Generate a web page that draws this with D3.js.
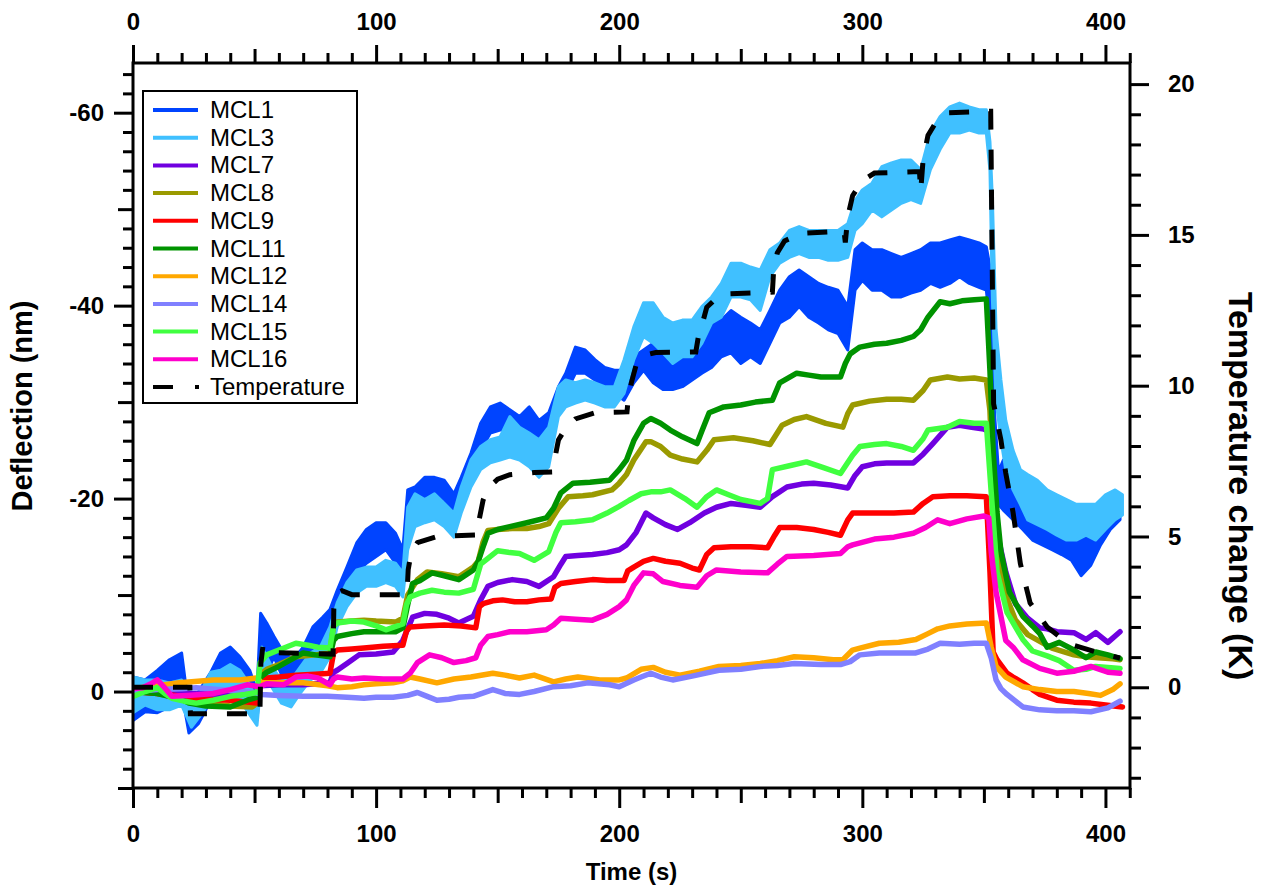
<!DOCTYPE html>
<html><head><meta charset="utf-8">
<script src="https://cdn.jsdelivr.net/npm/d3@7"></script>
<style>body{margin:0;background:#fff} svg{display:block} text{font-family:"Liberation Sans",Arial,Helvetica,sans-serif}</style>
</head><body>
<svg id="chart" width="1261" height="886"></svg>
<script>
// ---------- tick labels ----------
const timeTicks = [0, 100, 200, 300, 400];
const deflTicks = [-60, -40, -20, 0];
const tempTicks = [0, 5, 10, 15, 20];

// ---------- series (time s, deflection nm) ----------
const seriesNames = ["MCL1","MCL3","MCL7","MCL8","MCL9","MCL11","MCL12","MCL14","MCL15","MCL16"];
const seriesColors = ["#0044ff","#40c0ff","#7000e0","#9a9a00","#ff0000","#009300","#ffa800","#8080ff","#40ff40","#ff00cc"];

// noisy series: [t, upper edge, lower edge]
const MCL1 = [[0,-1.5,3],[5,-1.2,2.1],[10,-2.2,2.2],[15,-3.3,1.6],[20,-4,0],[23,1.9,4.3],[27,0,3.3],[32,-2,0.9],[36,-4,0],[40,-4.6,-1.2],[44,-3.6,0],[48,-2.2,0.5],[51,0,3],[52.5,-8.1,-1.2],[55,-7.1,-1.9],[58,-5.7,-3.6],[62,-4,-1.2],[66,-3.3,0.1],[70,-4.6,-1.9],[74,-6.7,-3.6],[78,-7.7,-4.6],[81,-8.5,-5.7],[84,-10.5,-8.1],[88,-12.9,-10.2],[92,-15.4,-12.3],[96,-16.8,-13.3],[100,-17.5,-14],[104,-17.5,-14.7],[108,-16.4,-13.3],[111,-14.7,-11.3],[113,-20.9,-15.7],[116,-21.2,-19.9],[120,-22.2,-20.2],[124,-22.2,-20.5],[128,-21.9,-19.9],[132,-20.5,-18.5],[135,-22.2,-19.9],[139,-24.7,-22.2],[143,-27.8,-25],[147,-29.5,-26.8],[151,-29.9,-27.1],[155,-29.2,-27.4],[159,-28.5,-27.1],[163,-29.5,-26.4],[167,-28.1,-26.1],[171,-28.9,-26.4],[175,-31.6,-29.2],[178,-33,-30.9],[182,-35.7,-33],[186,-35.4,-33],[190,-34.4,-32.3],[194,-33.6,-31.6],[198,-33.3,-30.9],[202,-33.3,-30.2],[206,-34.7,-32],[210,-35.4,-33.3],[214,-36.1,-32],[218,-34.7,-31.3],[222,-34,-31.3],[226,-34.7,-31.6],[230,-35,-32.3],[234,-36.8,-33],[238,-38.2,-33.6],[242,-38.5,-34.7],[246,-39.5,-35.1],[250,-38.8,-34],[254,-38.2,-34.7],[258,-37.5,-34],[262,-39.5,-36.1],[266,-41.6,-38.2],[270,-43,-38.8],[274,-43.7,-39.9],[278,-43,-38.8],[282,-42.3,-38.2],[286,-41.9,-37.5],[290,-41.6,-37.1],[294,-39.9,-35.4],[297,-45.8,-41.6],[300,-46.5,-42.6],[304,-45.8,-41.6],[308,-45.8,-41.6],[312,-45.4,-40.9],[316,-45,-40.9],[320,-45.4,-41.3],[324,-45.8,-41.6],[328,-46.5,-42.3],[332,-46.5,-41.9],[336,-46.8,-42.3],[340,-47.1,-43],[344,-46.8,-42.3],[348,-46.5,-41.9],[351,-46.1,-41.6],[352.5,-44,-38],[353.5,-35,-28],[354.5,-28.4,-25],[356,-22.8,-19.4],[358,-24,-18.8],[362,-21.9,-17.8],[366,-20.9,-16.8],[370,-19.9,-15.7],[374,-19.9,-15.2],[378,-19.4,-14.7],[382,-18.8,-14.2],[386,-18.3,-13.6],[390,-17.8,-12],[394,-18.5,-13.1],[398,-19.4,-15.2],[402,-20.4,-16.8],[406,-20.4,-17.8]];
const MCL3 = [[0,-1.5,2.2],[5,-1.2,1.4],[10,-1.2,1.9],[15,-0.9,1.9],[20,-1.2,1.4],[24,0.5,3.7],[28,0,2.4],[32,-2,0.9],[36,-2.2,0.5],[40,-2.8,0.1],[44,-2.2,0.9],[48,-0.7,2.4],[51,0.9,3.5],[53,-4.6,-1.9],[57,-2.6,-0.5],[61,-1.2,1.2],[65,-1.2,1.6],[69,-2.6,0.1],[73,-4,-1.2],[77,-4.6,-1.9],[81,-6.7,-3.6],[84,-9.2,-6.7],[88,-11.3,-8.8],[92,-12.6,-10.2],[96,-12.9,-10.9],[100,-12.9,-10.9],[104,-13.6,-11.3],[108,-13.3,-10.9],[111,-12.3,-9.8],[113,-19.1,-14.7],[116,-20.5,-17.1],[120,-19.9,-17.5],[124,-20.5,-17.8],[128,-19.5,-17.1],[132,-18.5,-16],[135,-21.2,-18.5],[139,-24,-21.2],[143,-25.4,-23],[147,-26.1,-23.7],[151,-26.4,-24],[155,-28.5,-24.3],[159,-27.4,-24],[163,-26.8,-23.3],[167,-26.1,-22.2],[171,-27.4,-23.3],[175,-31.6,-28.5],[178,-32.3,-29.5],[182,-32,-29.9],[186,-32.3,-30.2],[190,-32,-29.9],[194,-31.6,-29.5],[198,-31.6,-29.5],[202,-34.4,-30.9],[206,-37.8,-34.4],[210,-40.3,-36.8],[214,-40.3,-36.1],[218,-38.8,-35.1],[222,-38.2,-34],[226,-38.5,-34.7],[230,-38.5,-34.7],[234,-39.9,-36.1],[238,-40.9,-38.2],[242,-42.3,-38.8],[246,-44.4,-40.9],[250,-44.4,-40.9],[254,-44,-40.6],[258,-43.7,-39.5],[262,-45.8,-43],[266,-46.5,-44.4],[270,-47.8,-45],[274,-48.2,-45.4],[278,-47.8,-45],[282,-47.8,-45],[286,-47.8,-44.7],[290,-47.8,-44.7],[294,-48.5,-45],[297,-50.9,-47.8],[300,-52,-48.5],[304,-52.7,-49.9],[308,-54.4,-49.2],[312,-54.8,-49.9],[316,-55.1,-50.6],[320,-55.1,-51],[324,-54.1,-50.6],[328,-57.9,-54.1],[332,-59.6,-56.2],[336,-60.6,-57.9],[340,-61,-57.9],[344,-60.6,-58.2],[348,-60.3,-57.9],[351,-60.3,-57.9],[352.5,-57,-54],[353.5,-51,-40.6],[355,-37.5,-30.2],[357,-32.3,-26.1],[359,-28.1,-23],[362,-25,-20.9],[365,-23,-19.4],[368,-22.5,-17.8],[372,-21.9,-17.3],[376,-20.9,-16.8],[380,-20.4,-16.2],[384,-19.9,-15.7],[388,-19.4,-15.7],[392,-19.4,-16.2],[396,-19.4,-15.7],[400,-20.4,-16.8],[404,-20.9,-17.8],[407,-20.4,-18.3]];

// smoother series: [t, deflection]
const MCL7 = [[0,0],[20,0.2],[40,0.3],[50,0.2],[52.5,-0.6],[60,-0.7],[70,-0.7],[81,-0.9],[82.5,-2.0],[84,-2.2],[88,-2.9],[93,-3.8],[100,-3.9],[107,-4.1],[111,-5.3],[113,-6.5],[115,-7.7],[120,-8.1],[125,-8],[130,-7.6],[134,-7.1],[140,-7.8],[143,-9.5],[146,-10.9],[150,-11.3],[156,-11.6],[162,-11.4],[167,-10.9],[173,-11.9],[176,-13.2],[178,-14],[183,-14.1],[189,-14.2],[195,-14.4],[200,-14.7],[203,-15.2],[207,-16.5],[211,-18.5],[214,-18],[219,-17.3],[224,-16.8],[229,-17.5],[235,-18.5],[240,-19.1],[246,-19.5],[252,-19.3],[258,-19.1],[263,-20.2],[269,-21.2],[275,-21.5],[280,-21.6],[287,-21.4],[294,-21.1],[297,-22.4],[300,-23.3],[305,-23.6],[310,-23.7],[316,-23.7],[321,-23.7],[325,-24.6],[329,-25.7],[335,-27.4],[340,-27.6],[345,-27.4],[350,-27.2],[352,-27],[354,-22],[355.4,-16.5],[359,-12.4],[363,-9.1],[368,-7.6],[373,-6.6],[376,-6.5],[380,-6.2],[387,-6.1],[392,-5.4],[396,-6.1],[401,-5.1],[406,-6.2]];
const MCL8 = [[0,0],[10,0.2],[20,0.7],[30,1.2],[40,1.5],[49,1.6],[51,1.2],[52.5,-1.8],[55,-2.3],[60,-2.8],[67,-3.6],[75,-3.8],[81,-4],[82.5,-6.8],[84,-7.2],[90,-7.3],[95,-7.4],[100,-7.3],[108,-7.2],[111,-7.6],[113,-10],[117,-11.6],[121,-12.4],[127,-12.2],[134,-11.9],[140,-12.9],[142,-13.5],[144,-15.5],[146,-16.7],[150,-16.8],[156,-16.9],[162,-16.9],[167,-17.1],[171,-17.4],[175,-19],[179,-20.2],[185,-20.3],[189,-20.4],[197,-20.9],[200,-21.6],[203,-22.5],[206,-24],[211,-25.9],[213,-25.9],[217,-25.4],[221,-24.5],[226,-24.1],[232,-23.8],[236,-25],[239,-26.1],[247,-26.3],[255,-26],[262,-25.6],[265,-26.8],[267,-27.6],[272,-28.2],[277,-28.5],[285,-27.8],[292,-27.4],[294,-28.8],[296,-29.7],[303,-30.1],[310,-30.3],[316,-30.3],[321,-30.2],[325,-31.2],[328,-32.3],[335,-32.6],[340,-32.4],[346,-32.5],[351,-32.3],[352.5,-29.1],[353.8,-20.7],[355.4,-14.5],[358.5,-10.3],[363,-7.4],[368,-5.9],[373,-5.2],[378,-4.5],[383,-4.1],[387,-3.8],[392,-3.6],[397,-3.5],[403,-3.4],[406,-3.3]];
const MCL9 = [[0,0],[10,0.2],[20,0.5],[30,0.8],[40,0.9],[47,1.1],[51,1.2],[52.5,-1.2],[55,-1.4],[60,-1.5],[67,-1.7],[75,-1.8],[81,-1.9],[82.5,-4.0],[84,-4.3],[90,-4.4],[95,-4.5],[103,-4.7],[111,-4.8],[112.5,-6.3],[114,-6.7],[120,-6.8],[128,-6.9],[135,-6.8],[141,-6.6],[142.5,-8.8],[144,-9.1],[148,-9.4],[152,-9.5],[157,-9.3],[162,-9.3],[167,-9.5],[172,-9.6],[173.5,-10.8],[176,-11.2],[182,-11.4],[189,-11.6],[195,-11.5],[202,-11.5],[203.5,-12.5],[206,-12.9],[210,-13.5],[214,-13.8],[219,-13.5],[225,-13.3],[230,-12.8],[233,-12.6],[236,-14.2],[239,-14.9],[246,-15],[254,-15],[261,-14.9],[264,-16.2],[266,-17],[273,-17],[280,-16.8],[286,-16.5],[291,-16.2],[294,-17.8],[296,-18.5],[305,-18.5],[313,-18.5],[321,-18.6],[325,-19.5],[329,-20.2],[336,-20.3],[343,-20.3],[351,-20.2],[352.5,-12.4],[353.8,-4.1],[355.4,-3.3],[359.5,-1.9],[362,-1.5],[366,-0.9],[370,-0.2],[373,0.3],[380,0.9],[387,1.1],[394,1.2],[400,1.4],[407,1.6]];
const MCL11 = [[0,0],[10,0.2],[20,0.8],[23,1.2],[30,1.5],[40,1.6],[47,0.9],[51,0.6],[52.5,-1.5],[55,-2.0],[60,-2.6],[65,-3.3],[70,-4],[75,-3.8],[81,-3.6],[82.5,-5.3],[84,-5.7],[90,-6.0],[95,-6.2],[100,-6.2],[108,-6.2],[111,-6.6],[113,-9],[115,-11.2],[118,-11.5],[123,-12.3],[128,-12],[134,-11.6],[140,-12.6],[142,-13.5],[144,-15],[146,-16.4],[150,-16.8],[155,-17.1],[162,-17.5],[170,-18],[173,-19],[176,-20.6],[181,-21.6],[188,-21.7],[196,-21.9],[200,-23],[203,-24],[206,-26],[210,-27.8],[213,-28.3],[217,-27.8],[221,-27.1],[226,-26.4],[232,-25.7],[234,-27],[237,-28.9],[243,-29.5],[250,-29.7],[256,-30],[263,-30.2],[266,-32],[273,-33],[278,-32.8],[283,-32.6],[291,-32.6],[293,-34],[295,-35],[299,-35.7],[305,-36],[310,-36.1],[316,-36.4],[321,-36.8],[324,-37.5],[327,-38.8],[332,-40.4],[336,-40.2],[341,-40.5],[346,-40.6],[351,-40.7],[352.5,-33.2],[353.8,-25],[355.4,-18.6],[357,-14.5],[360.5,-10.3],[366,-7.8],[370,-6.8],[373,-6],[376,-4.6],[381,-5.1],[387,-4.3],[392,-3.5],[396,-4.1],[401,-3.8],[406,-3.4]];
const MCL12 = [[0,-0.3],[10,-0.6],[19,-0.9],[33,-1.2],[44,-1.2],[51,-1.4],[53,-0.9],[60,-0.9],[70,-0.9],[80,-0.6],[84,-0.4],[90,-0.5],[95,-0.7],[100,-0.8],[107,-0.9],[111,-1.1],[114,-1.5],[118,-1.3],[125,-0.9],[132,-1.3],[139,-1.5],[148,-1.9],[153,-1.7],[159,-1.4],[165,-1.7],[173,-1.0],[178,-1.3],[183,-1.5],[192,-1.2],[200,-1.2],[203,-1.4],[209,-2.3],[214,-2.5],[219,-2.0],[225,-1.7],[233,-2.1],[241,-2.6],[250,-2.7],[258,-2.9],[265,-3.2],[272,-3.6],[280,-3.5],[288,-3.3],[292,-3.3],[296,-4.3],[299,-4.5],[307,-5],[315,-5.1],[322,-5.4],[327,-6.0],[331,-6.5],[336,-6.8],[343,-7],[351,-7.1],[353,-4.6],[355,-2.6],[359,-1.5],[366,-0.5],[373,-0.2],[380,0],[387,0],[393,0.2],[398,0.4],[403,-0.2],[406,-0.8]];
const MCL14 = [[0,0],[10,-0.2],[20,-0.3],[26,-0.4],[35,-0.2],[45,0],[50,0.1],[53,0.3],[60,0.4],[70,0.5],[80,0.5],[88,0.6],[95,0.7],[100,0.6],[107,0.6],[113,0.4],[117,0.1],[121,0.5],[125,0.9],[130,0.8],[134,0.6],[140,0.5],[148,-0.2],[153,0.2],[159,0.3],[165,0.0],[173,-0.5],[180,-0.6],[187,-0.9],[196,-0.7],[200,-0.5],[206,-1.2],[209,-1.5],[213,-1.9],[217,-1.5],[222,-1.2],[230,-1.6],[241,-2.2],[250,-2.3],[258,-2.6],[265,-2.7],[272,-2.9],[283,-2.8],[291,-2.8],[295,-3.1],[299,-3.8],[307,-4],[315,-4],[322,-4],[327,-4.4],[332,-5.0],[340,-4.9],[346,-5],[351,-5],[353,-3.5],[355,-1.2],[357,-0.3],[359.5,0.3],[363,1.0],[366,1.6],[373,1.9],[380,2.0],[387,2.0],[394,2.1],[401,1.7],[406,1.0]];
const MCL15 = [[0,0.5],[5,0],[10,-0.4],[13,0.2],[16,0.7],[21,1.0],[26,1.2],[33,0.9],[40,0.5],[46,0.3],[51,0.1],[52.3,-3.0],[55,-3.8],[60,-4.3],[67,-5],[72,-4.8],[76,-4.6],[81,-4.5],[82.5,-6.8],[84,-7.1],[90,-7.3],[95,-7.2],[100,-6.8],[104,-6.4],[111,-7],[112.5,-9],[114,-9.8],[118,-10.2],[123,-10.5],[128,-10.3],[134,-10.2],[140,-10.6],[143,-13.2],[146,-13.8],[150,-14.6],[155,-14.4],[159,-14.3],[165,-13.6],[171,-14.5],[174,-16.5],[176,-17.5],[182,-17.6],[189,-17.8],[195,-18.5],[200,-19.2],[204,-19.8],[209,-20.5],[213,-20.7],[217,-20.7],[221,-20.9],[227,-20],[232,-19.1],[236,-20.2],[240,-20.9],[245,-20.4],[250,-19.9],[258,-19.5],[261,-20],[263,-23],[270,-23.4],[277,-23.8],[284,-23.2],[291,-22.6],[296,-24.5],[299,-25.4],[305,-25.6],[310,-25.7],[316,-25.4],[321,-25],[325,-26.2],[327,-27.1],[335,-27.4],[340,-28],[346,-27.8],[351,-27.8],[353,-20.7],[355.4,-12.4],[359.5,-8.2],[366,-5.4],[370,-4.2],[376,-3.7],[381,-3.2],[387,-2.2],[392,-2.3],[396,-2.6],[401,-2.5],[406,-2.4]];
const MCL16 = [[0,-0.3],[4,-0.4],[8,-0.9],[10,-1.2],[13,-0.4],[16,0.5],[22,0.4],[28,0.3],[33,0.2],[40,-0.2],[47,-0.7],[52,-0.5],[55,-0.8],[62,-0.7],[67,-1.5],[72,-1.6],[76,-1.4],[81,-0.7],[82.5,-1.3],[84,-1.5],[90,-1.3],[95,-1.4],[103,-1.3],[111,-1.3],[114,-1.9],[117,-3.0],[122,-3.8],[127,-3.5],[132,-3.0],[137,-3.2],[141,-3.5],[143,-4.8],[146,-5.7],[150,-5.9],[155,-6.2],[162,-6.2],[170,-6.4],[173,-6.9],[176,-7.6],[182,-7.5],[189,-7.4],[195,-8],[200,-8.8],[203,-9.5],[206,-11],[210,-12.3],[214,-12.2],[218,-11.4],[225,-11],[232,-10.8],[236,-12],[240,-12.6],[250,-12.4],[261,-12.3],[265,-13.2],[269,-14],[280,-14.1],[291,-14.3],[294,-15],[296,-15.2],[305,-15.8],[313,-16],[321,-16.4],[326,-17],[331,-17.8],[336,-17.4],[343,-17.9],[350,-18.2],[352,-18],[353,-14.5],[355,-10.3],[359,-5.3],[362,-4.6],[366,-3.3],[373,-2.4],[380,-1.9],[387,-2.1],[394,-2.6],[401,-2],[406,-1.9]];

// temperature (time s, K)
const temperature = [[0,0],[23.4,0],[23.6,-0.88],[52.2,-0.88],[52.6,0.8],[53.5,1.4],[55,1.3],[58,1.15],[82.3,1.1],[82.6,2.6],[83.5,3.1],[86,3.2],[90,3.07],[112.7,3.07],[113.2,3.9],[114.5,4.5],[117,4.8],[125,5.0],[142,5.05],[142.5,5.6],[144,6.2],[146,6.6],[150,6.9],[155,7.05],[165,7.12],[172.8,7.14],[173.3,7.5],[175,8.2],[178,8.6],[182,8.9],[190,9.1],[203.2,9.13],[203.5,9.4],[205,10.1],[207,10.7],[210,11.0],[215,11.1],[231.5,11.12],[232.5,11.6],[234,12.0],[236,12.6],[240,12.9],[245,13.05],[263,13.1],[263.5,13.8],[265,14.4],[268,14.8],[275,15.05],[286,15.1],[292.5,15.1],[293,14.75],[294,15.6],[296,16.3],[300,16.8],[305,17.05],[323.5,17.1],[324,16.45],[325,17.5],[327,18.3],[330,18.7],[335,19.05],[352.8,19.1],[353.3,15],[354,9.4],[357,8.2],[359,7.1],[362,5.8],[365,4.1],[369,2.8],[376,2.0],[385,1.44],[396,1.17],[406,0.97]];

const bandSeries = {MCL1, MCL3};
const lineSeries = {MCL7, MCL8, MCL9, MCL11, MCL12, MCL14, MCL15, MCL16};

// ---------- layout ----------
const svg = d3.select("#chart");
const L = 133, R = 1130, T = 63, B = 788;
const x = d3.scaleLinear().domain([0, 410.1]).range([L, R]);
const yL = d3.scaleLinear().domain([-65.15, 10]).range([T, B]);
const yR = d3.scaleLinear().domain([20.7, -3.34]).range([T, B]);

const plot = svg.append("g");
plot.append("clipPath").attr("id","clip").append("rect").attr("x",L).attr("y",T).attr("width",R-L).attr("height",B-T);
const g = plot.append("g").attr("clip-path","url(#clip)");

const area = d3.area().x(d => x(d[0])).y0(d => yL(d[1])).y1(d => yL(d[2]));
const line = d3.line().x(d => x(d[0])).y(d => yL(d[1]));
const tline = d3.line().x(d => x(d[0])).y(d => yR(d[1]));

seriesNames.forEach((name, i) => {
  const col = seriesColors[i];
  if (bandSeries[name]) {
    g.append("path").attr("d", area(bandSeries[name])).attr("fill", col)
      .attr("stroke", col).attr("stroke-width", 3).attr("stroke-linejoin","round");
  } else {
    g.append("path").attr("d", line(lineSeries[name])).attr("fill","none")
      .attr("stroke", col).attr("stroke-width", 5.5).attr("stroke-linejoin","round").attr("stroke-linecap","round");
  }
});
g.append("path").attr("d", tline(temperature)).attr("fill","none")
  .attr("stroke","#000").attr("stroke-width",5).attr("stroke-dasharray","20,20");

// ---------- axes ----------
const fontTick = "24px";
function styleAxis(sel) {
  sel.select(".domain").remove();
  sel.selectAll(".tick line").attr("stroke","#000").attr("stroke-width",3);
  sel.selectAll(".tick text").attr("fill","#000").style("font-size",fontTick).style("font-weight","bold")
     .style("font-family",'"Liberation Sans",Arial,sans-serif');
}
const range = (a,b,s) => d3.range(a, b + s/2, s);
const xMinor = range(0,410,10).filter(v => v % 50 !== 0);
const xMid = range(50,400,100);
// bottom
[[xMinor,10],[xMid,15]].forEach(([v,s]) => svg.append("g").attr("transform",`translate(0,${B})`)
  .call(d3.axisBottom(x).tickValues(v).tickSize(s).tickFormat("")).call(styleAxis));
svg.append("g").attr("transform",`translate(0,${B})`)
  .call(d3.axisBottom(x).tickValues(timeTicks).tickSize(20).tickPadding(17).tickFormat(d3.format("d"))).call(styleAxis);
// top
[[xMinor,10],[xMid,14]].forEach(([v,s]) => svg.append("g").attr("transform",`translate(0,${T})`)
  .call(d3.axisTop(x).tickValues(v).tickSize(s).tickFormat("")).call(styleAxis));
svg.append("g").attr("transform",`translate(0,${T})`)
  .call(d3.axisTop(x).tickValues(timeTicks).tickSize(18).tickPadding(15).tickFormat(d3.format("d"))).call(styleAxis);
// left
const yMinor = range(-64,10,2).filter(v => v % 10 !== 0);
const yMid = [-50,-30,-10,10];
[[yMinor,10],[yMid,15]].forEach(([v,s]) => svg.append("g").attr("transform",`translate(${L},0)`)
  .call(d3.axisLeft(yL).tickValues(v).tickSize(s).tickFormat("")).call(styleAxis));
svg.append("g").attr("transform",`translate(${L},0)`)
  .call(d3.axisLeft(yL).tickValues(deflTicks).tickSize(19).tickPadding(10).tickFormat(d => d3.format("d")(d).replace("−","-"))).call(styleAxis);
// right
const tMinor = range(-3,20,1).filter(v => v % 5 !== 0);
svg.append("g").attr("transform",`translate(${R},0)`)
  .call(d3.axisRight(yR).tickValues(tMinor).tickSize(11).tickFormat("")).call(styleAxis);
svg.append("g").attr("transform",`translate(${R},0)`)
  .call(d3.axisRight(yR).tickValues(tempTicks).tickSize(19).tickPadding(19).tickFormat(d3.format("d"))).call(styleAxis);

// frame
svg.append("rect").attr("x",L).attr("y",T).attr("width",R-L).attr("height",B-T)
  .attr("fill","none").attr("stroke","#000").attr("stroke-width",3);

// titles
const titleStyle = (s, size) => s.style("font-size",size).style("font-weight","bold").attr("fill","#000").attr("text-anchor","middle");
svg.append("text").attr("x",(L+R)/2).attr("y",880).text("Time (s)").call(titleStyle,"24px");
svg.append("text").attr("transform","translate(32,406) rotate(-90)").text("Deflection (nm)").call(titleStyle,"29px");
svg.append("text").attr("transform","translate(1229,486) rotate(90)").text("Temperature change (K)").call(titleStyle,"34px");

// legend
const lg = svg.append("g");
lg.append("rect").attr("x",143).attr("y",91).attr("width",214).attr("height",312)
  .attr("fill","#fff").attr("stroke","#000").attr("stroke-width",2);
const legendNames = seriesNames.concat(["Temperature"]);
legendNames.forEach((n,i) => {
  const yy = 110 + i*27.7;
  if (i < seriesNames.length) {
    lg.append("line").attr("x1",153).attr("x2",198).attr("y1",yy).attr("y2",yy)
      .attr("stroke",seriesColors[i]).attr("stroke-width",4);
  } else {
    lg.append("line").attr("x1",153).attr("x2",173).attr("y1",yy).attr("y2",yy).attr("stroke","#000").attr("stroke-width",4);
    lg.append("line").attr("x1",195).attr("x2",199).attr("y1",yy).attr("y2",yy).attr("stroke","#000").attr("stroke-width",4);
  }
  lg.append("text").attr("x",210).attr("y",yy+8).text(n).style("font-size","24px").attr("fill","#000");
});
</script>
</body></html>
